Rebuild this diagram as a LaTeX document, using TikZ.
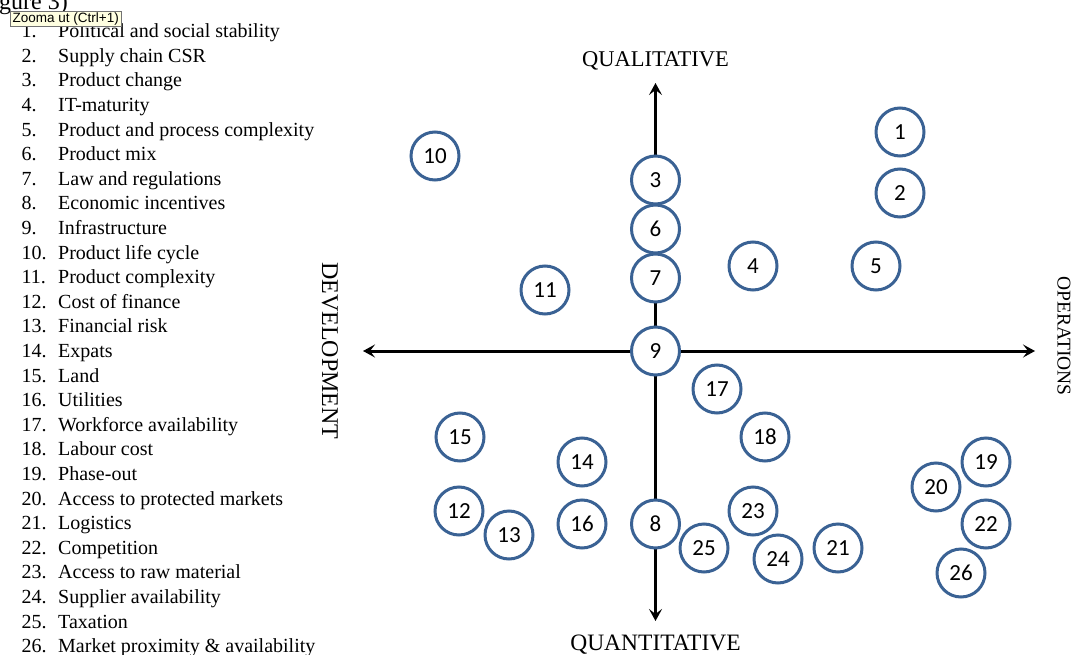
\documentclass[tikz,border=0pt]{standalone}
\usepackage{fontspec}
\setmainfont{Liberation Serif}
\newfontfamily\numfont{Carlito}
\newfontfamily\uifont{Liberation Sans}
\usepackage{tikz}
\usetikzlibrary{arrows.meta,positioning}
\definecolor{ringblue}{RGB}{58,98,148}
\definecolor{tipyellow}{RGB}{255,255,225}
\tikzset{
    factor/.style={
        circle, draw=ringblue, line width=3pt, fill=white,
        minimum size=48pt, inner sep=0pt,
        font=\fontsize{23}{23}\selectfont\numfont},
    axisline/.style={
        {Stealth[length=12pt,width=13pt,inset=5pt]}-{Stealth[length=12pt,width=13pt,inset=5pt]},
        line width=3pt},
    axislabel/.style={inner sep=0pt, font=\fontsize{22.5}{22.5}\selectfont},
}

\begin{document}
\begin{tikzpicture}[x=1pt, y=-1pt]

    \useasboundingbox (0,0) rectangle (1075,655);
    \clip (0,0) rectangle (1075,655);
    \fill[white] (0,0) rectangle (1075,655);

    % --- Caption remains and factor list ------------------------------------------
    \node[anchor=base west, inner sep=0pt, font=\fontsize{24}{24}\selectfont] (figref) at (-1,10) {gure 3)};
    \node[anchor=north west, inner sep=0pt, font=\fontsize{20}{24.6}\selectfont] (legend) at (21.5,20.3) {%
        \begin{tabular}{@{}p{36.5pt}@{}l@{}}
        1.  & Political and social stability\\
        2.  & Supply chain CSR\\
        3.  & Product change\\
        4.  & IT-maturity\\
        5.  & Product and process complexity\\
        6.  & Product mix\\
        7.  & Law and regulations\\
        8.  & Economic incentives\\
        9.  & Infrastructure\\
        10. & Product life cycle\\
        11. & Product complexity\\
        12. & Cost of finance\\
        13. & Financial risk\\
        14. & Expats\\
        15. & Land\\
        16. & Utilities\\
        17. & Workforce availability\\
        18. & Labour cost\\
        19. & Phase-out\\
        20. & Access to protected markets\\
        21. & Logistics\\
        22. & Competition\\
        23. & Access to raw material\\
        24. & Supplier availability\\
        25. & Taxation\\
        26. & Market proximity \& availability
        \end{tabular}};
    \node[anchor=north west, draw=black!55, fill=tipyellow, inner xsep=2.5pt, inner ysep=0pt,
        minimum height=15pt, font=\fontsize{13.5}{13.5}\selectfont\uifont] (zoomtip) at (10,11) {Zooma ut (Ctrl+1)};

    % --- Axes ---------------------------------------------------------------------
    \coordinate (devtip) at (363,351);
    \coordinate (optip) at (1035,351);
    \coordinate (qualtip) at (655.5,83);
    \coordinate (quanttip) at (655.5,621);
    \draw[axisline] (devtip) -- (optip);
    \draw[axisline] (quanttip) -- (qualtip);

    \node[axislabel, above=13pt of qualtip] (qualabel) {QUALITATIVE};
    \node[axislabel, below=14pt of quanttip, font=\fontsize{23.5}{23.5}\selectfont] (quantlabel) {QUANTITATIVE};
    \node[axislabel, rotate=-90, font=\fontsize{24}{24}\selectfont] (devlabel) at (330,351) {DEVELOPMENT};
    \node[axislabel, rotate=-90, font=\fontsize{19.5}{19.5}\selectfont] (oplabel) at (1064,336) {OPERATIONS};

    % --- Factors ------------------------------------------------------------------
    \node[factor] (f1) at (900,132) {1};
    \node[factor] (f2) at (900,193) {2};
    \node[factor] (f3) at (655.5,180) {3};
    \node[factor] (f4) at (753,266) {4};
    \node[factor] (f5) at (876,266) {5};
    \node[factor] (f6) at (655.5,229) {6};
    \node[factor] (f7) at (655.5,278) {7};
    \node[factor] (f8) at (655.5,524) {8};
    \node[factor] (f9) at (655.5,351) {9};
    \node[factor] (f10) at (435,156) {10};
    \node[factor] (f11) at (545,290) {11};
    \node[factor] (f12) at (459,511) {12};
    \node[factor] (f13) at (509,535) {13};
    \node[factor] (f14) at (582,462) {14};
    \node[factor] (f15) at (460,437) {15};
    \node[factor] (f16) at (582,524) {16};
    \node[factor] (f17) at (717,389) {17};
    \node[factor] (f18) at (765,437) {18};
    \node[factor] (f19) at (986,462) {19};
    \node[factor] (f20) at (936,487) {20};
    \node[factor] (f21) at (838,548) {21};
    \node[factor] (f22) at (986,524) {22};
    \node[factor] (f23) at (753,511) {23};
    \node[factor] (f24) at (778,559) {24};
    \node[factor] (f25) at (704,548) {25};
    \node[factor] (f26) at (961,573) {26};

\end{tikzpicture}
\end{document}
